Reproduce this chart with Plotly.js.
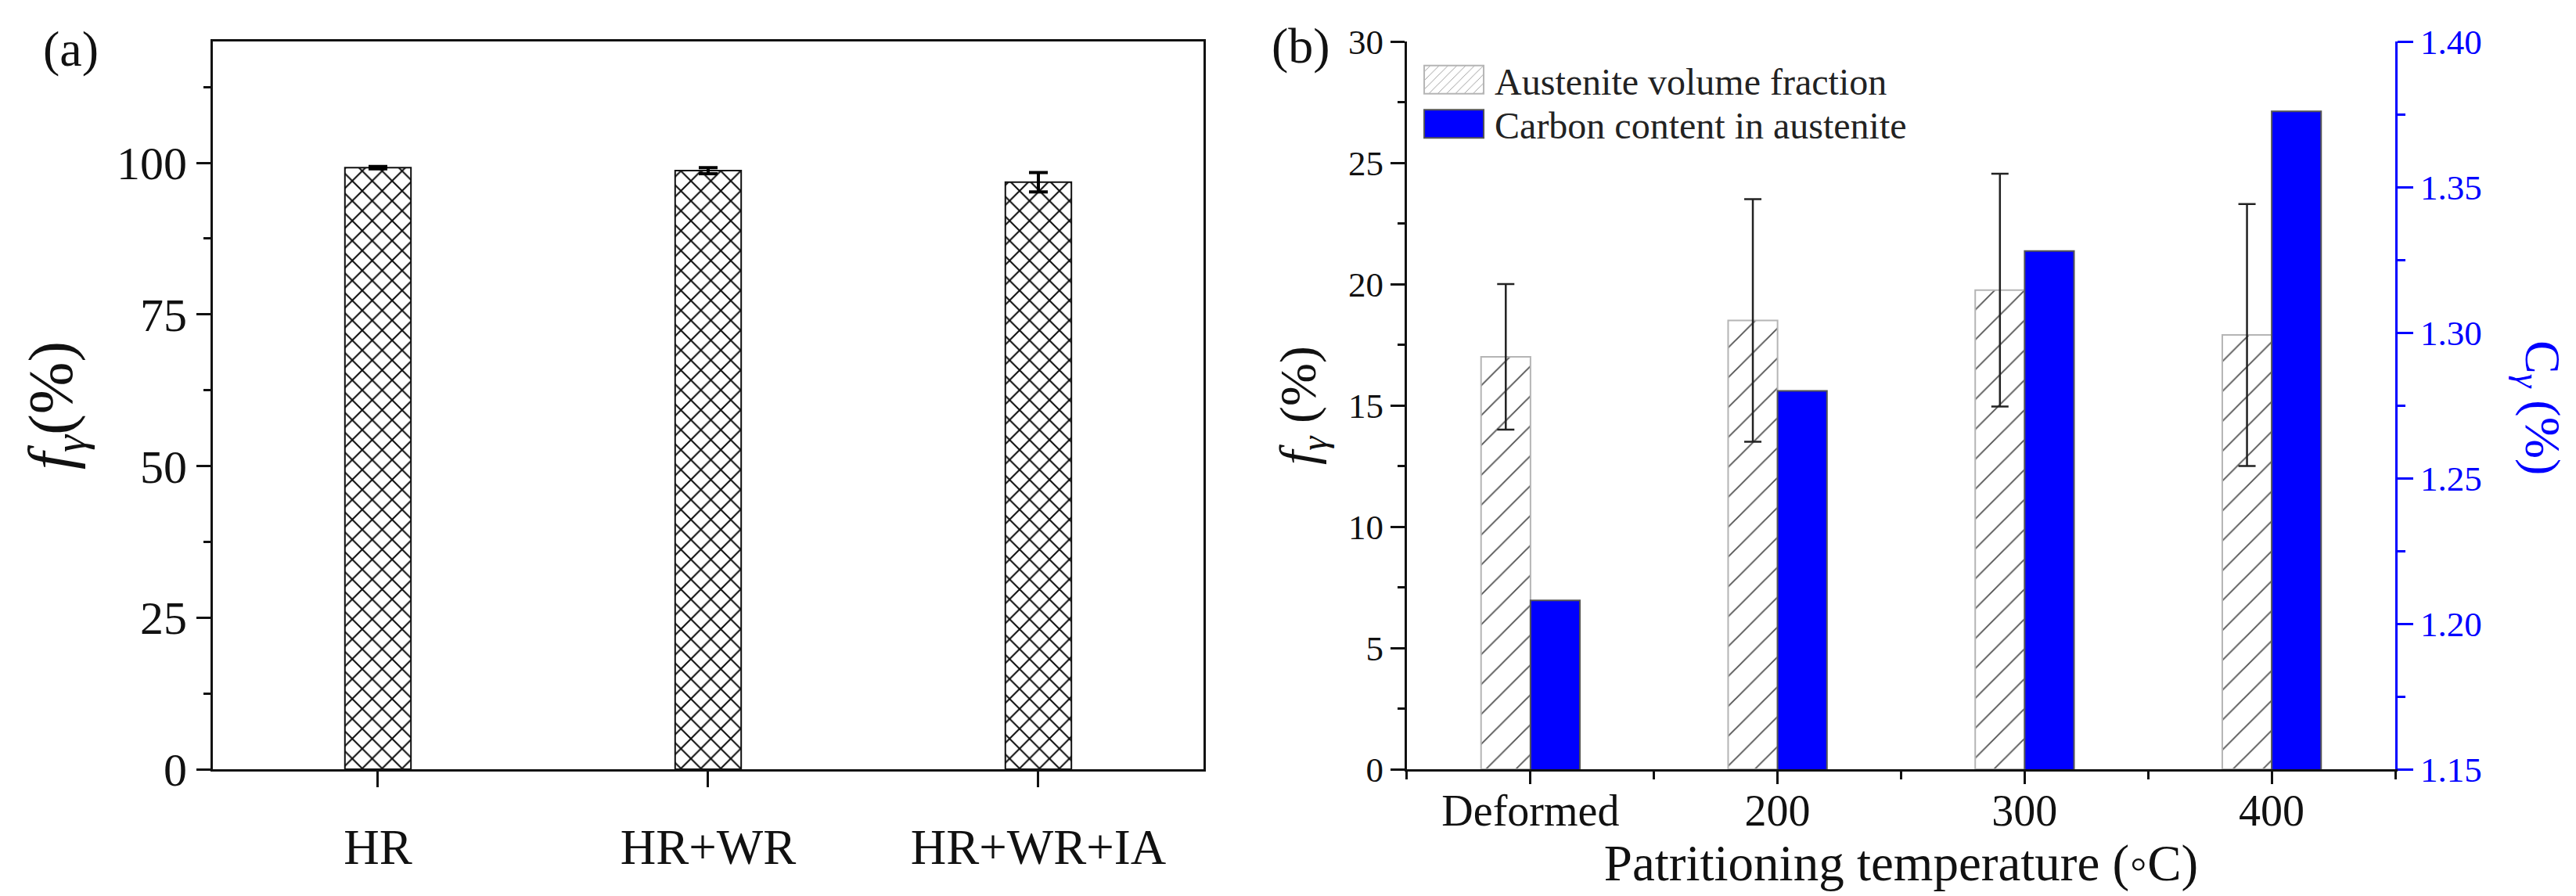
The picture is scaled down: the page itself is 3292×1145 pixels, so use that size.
<!DOCTYPE html>
<html>
<head>
<meta charset="utf-8">
<script src="https://cdn.plot.ly/plotly-3.0.1.min.js"></script>
<style>html,body{margin:0;padding:0;background:#fff;}#chart{width:3292px;height:1145px;}</style>
</head>
<body>
<div id="chart"></div>
<script>
// Panel (a)
const catsA = ['HR', 'HR+WR', 'HR+WR+IA'];
const fracA = [99.2, 98.7, 96.8];
const errA = [0.2, 0.5, 1.6];

// Panel (b)
const catsB = ['Deformed', '200', '300', '400'];
const fracB = [17.0, 18.5, 19.75, 17.9];
const errB = [3.0, 5.0, 4.8, 5.4];
const carbonB = [1.208, 1.280, 1.328, 1.376];

const seriesNames = ['Austenite volume fraction', 'Carbon content in austenite'];
const ticksA = [0, 25, 50, 75, 100];

const FONT = '"Liberation Serif", "Times New Roman", serif';
const posB = catsB.map((c, i) => i);

const traces = [
  {
    type: 'bar', x: catsA, y: fracA, xaxis: 'x', yaxis: 'y', width: 0.2,
    showlegend: false,
    marker: {color: 'white', line: {color: '#111', width: 2},
      pattern: {shape: 'x', fgcolor: '#111', bgcolor: 'white', size: 18, solidity: 0.22}},
    error_y: {type: 'data', array: errA, color: '#000', thickness: 4, width: 12}
  },
  {
    type: 'bar', name: seriesNames[0], x: posB, y: fracB, xaxis: 'x2', yaxis: 'y2',
    width: 0.2, offset: -0.2,
    marker: {color: 'white', line: {color: '#b5b5b5', width: 2},
      pattern: {shape: '/', fgcolor: '#555', bgcolor: 'white', size: 27, solidity: 0.07}},
    error_y: {type: 'data', array: errB, color: '#222', thickness: 2.5, width: 11}
  },
  {
    type: 'bar', name: seriesNames[1], x: posB, y: carbonB, xaxis: 'x2', yaxis: 'y3',
    width: 0.2, offset: 0,
    marker: {color: '#0000ff', line: {color: '#555', width: 2}}
  }
];

const axBase = {showgrid: false, zeroline: false, showline: true, linecolor: '#111', linewidth: 3,
  tickcolor: '#111', tickwidth: 3};

const layout = {
  width: 3292, height: 1145,
  margin: {l: 0, r: 0, t: 53, b: 162},
  paper_bgcolor: 'white', plot_bgcolor: 'white',
  font: {family: FONT, color: '#111'},
  barmode: 'overlay',
  showlegend: true,
  legend: {x: 0.5468, y: 0.988, xanchor: 'left', yanchor: 'top', bgcolor: 'rgba(0,0,0,0)',
    font: {family: FONT, size: 48, color: '#222'}, itemwidth: 100, tracegroupgap: 0},
  xaxis: Object.assign({}, axBase, {
    domain: [0.08262, 0.46719], anchor: 'y', type: 'category', range: [-0.5, 2.5],
    mirror: true, ticks: 'outside', ticklen: 20, ticklabelstandoff: 22,
    tickfont: {family: FONT, size: 63, color: '#111'}
  }),
  yaxis: Object.assign({}, axBase, {
    domain: [0, 1], anchor: 'x', range: [0, 120], tickvals: ticksA,
    mirror: true, ticks: 'outside', ticklen: 18,
    minor: {tickmode: 'linear', tick0: 0, dtick: 12.5, ticks: 'outside', ticklen: 9, tickwidth: 3, tickcolor: '#111'},
    tickfont: {family: FONT, size: 60, color: '#111'},
    title: {text: '<i>f</i><sub><i>γ</i></sub>(%)', font: {family: FONT, size: 80, color: '#111'}, standoff: 30}
  }),
  xaxis2: Object.assign({}, axBase, {
    domain: [0.54617, 0.92983], anchor: 'y2', range: [-0.5, 3.5],
    tickmode: 'array', tickvals: posB, ticktext: catsB,
    ticks: 'outside', ticklen: 16, ticklabelstandoff: -14,
    minor: {tickmode: 'linear', tick0: -0.5, dtick: 0.5, ticks: 'outside', ticklen: 10, tickwidth: 3, tickcolor: '#111'},
    tickfont: {family: FONT, size: 56, color: '#111'},
    title: {text: 'Patritioning temperature (◦C)', font: {family: FONT, size: 65, color: '#111'}, standoff: 14}
  }),
  xaxis3: Object.assign({}, axBase, {
    overlaying: 'x2', side: 'top', anchor: 'y2', range: [-0.5, 3.5],
    tickmode: 'array', tickvals: posB, showticklabels: false,
    ticks: 'inside', ticklen: 17,
    minor: {tickmode: 'linear', tick0: -0.5, dtick: 0.5, ticks: 'inside', ticklen: 7, tickwidth: 3, tickcolor: '#111'}
  }),
  yaxis2: Object.assign({}, axBase, {
    domain: [0, 1], anchor: 'x2', range: [0, 30], dtick: 5, tick0: 0,
    ticks: 'outside', ticklen: 18,
    minor: {tickmode: 'linear', tick0: 0, dtick: 2.5, ticks: 'outside', ticklen: 9, tickwidth: 3, tickcolor: '#111'},
    tickfont: {family: FONT, size: 45, color: '#111'},
    title: {text: '<i>f</i><sub><i>γ</i></sub> (%)', font: {family: FONT, size: 66, color: '#111'}, standoff: 20}
  }),
  yaxis3: Object.assign({}, axBase, {
    overlaying: 'y2', side: 'right', anchor: 'x2', range: [1.15, 1.40], dtick: 0.05, tick0: 1.15,
    tickformat: '.2f', linecolor: '#0000ff', tickcolor: '#0000ff',
    ticks: 'outside', ticklen: 20,
    minor: {tickmode: 'linear', tick0: 1.15, dtick: 0.025, ticks: 'outside', ticklen: 10, tickwidth: 3, tickcolor: '#0000ff'},
    tickfont: {family: FONT, size: 45, color: '#0000ff'}
  }),
  annotations: [
    {text: '(a)', xref: 'paper', yref: 'paper', x: 90 / 3292, y: 0.99, xanchor: 'center', yanchor: 'middle',
      showarrow: false, font: {family: FONT, size: 64, color: '#111'}},
    {text: '(b)', xref: 'paper', yref: 'paper', x: 1662 / 3292, y: 0.9946, xanchor: 'center', yanchor: 'middle',
      showarrow: false, font: {family: FONT, size: 64, color: '#111'}},
    {text: 'C<sub><i>γ</i></sub> (%)', xref: 'paper', yref: 'paper', x: 3245 / 3292, y: 0.4968,
      xanchor: 'center', yanchor: 'middle', textangle: 90, showarrow: false,
      font: {family: FONT, size: 64, color: '#0000ff'}}
  ]
};

Plotly.newPlot('chart', traces, layout, {staticPlot: true, displayModeBar: false}).then(function () {
  // enlarge legend swatches to the reference's wide rectangles and tighten row spacing
  document.querySelectorAll('.legend .traces').forEach(function (g, i) {
    const txt = g.querySelector('text.legendtext');
    const tx = txt ? parseFloat(txt.getAttribute('x')) : 110;
    g.querySelectorAll('.legendpoints path').forEach(function (p) {
      const tr = p.getAttribute('transform') || '';
      const m = tr.match(/translate\(([-\d.]+)/);
      const px = m ? parseFloat(m[1]) : 0;
      const R = tx - 14 - px, L = R - 76;
      p.setAttribute('d', 'M' + R + ',18H' + L + 'V-18H' + R + 'Z');
    });
    const gt = g.getAttribute('transform') || '';
    const mm = gt.match(/translate\(([-\d.]+)[ ,]+([-\d.]+)\)/);
    if (mm && i > 0) {
      g.setAttribute('transform', 'translate(' + mm[1] + ',' + (parseFloat(mm[2]) - 9 * i) + ')');
    }
  });
});
</script>
</body>
</html>
